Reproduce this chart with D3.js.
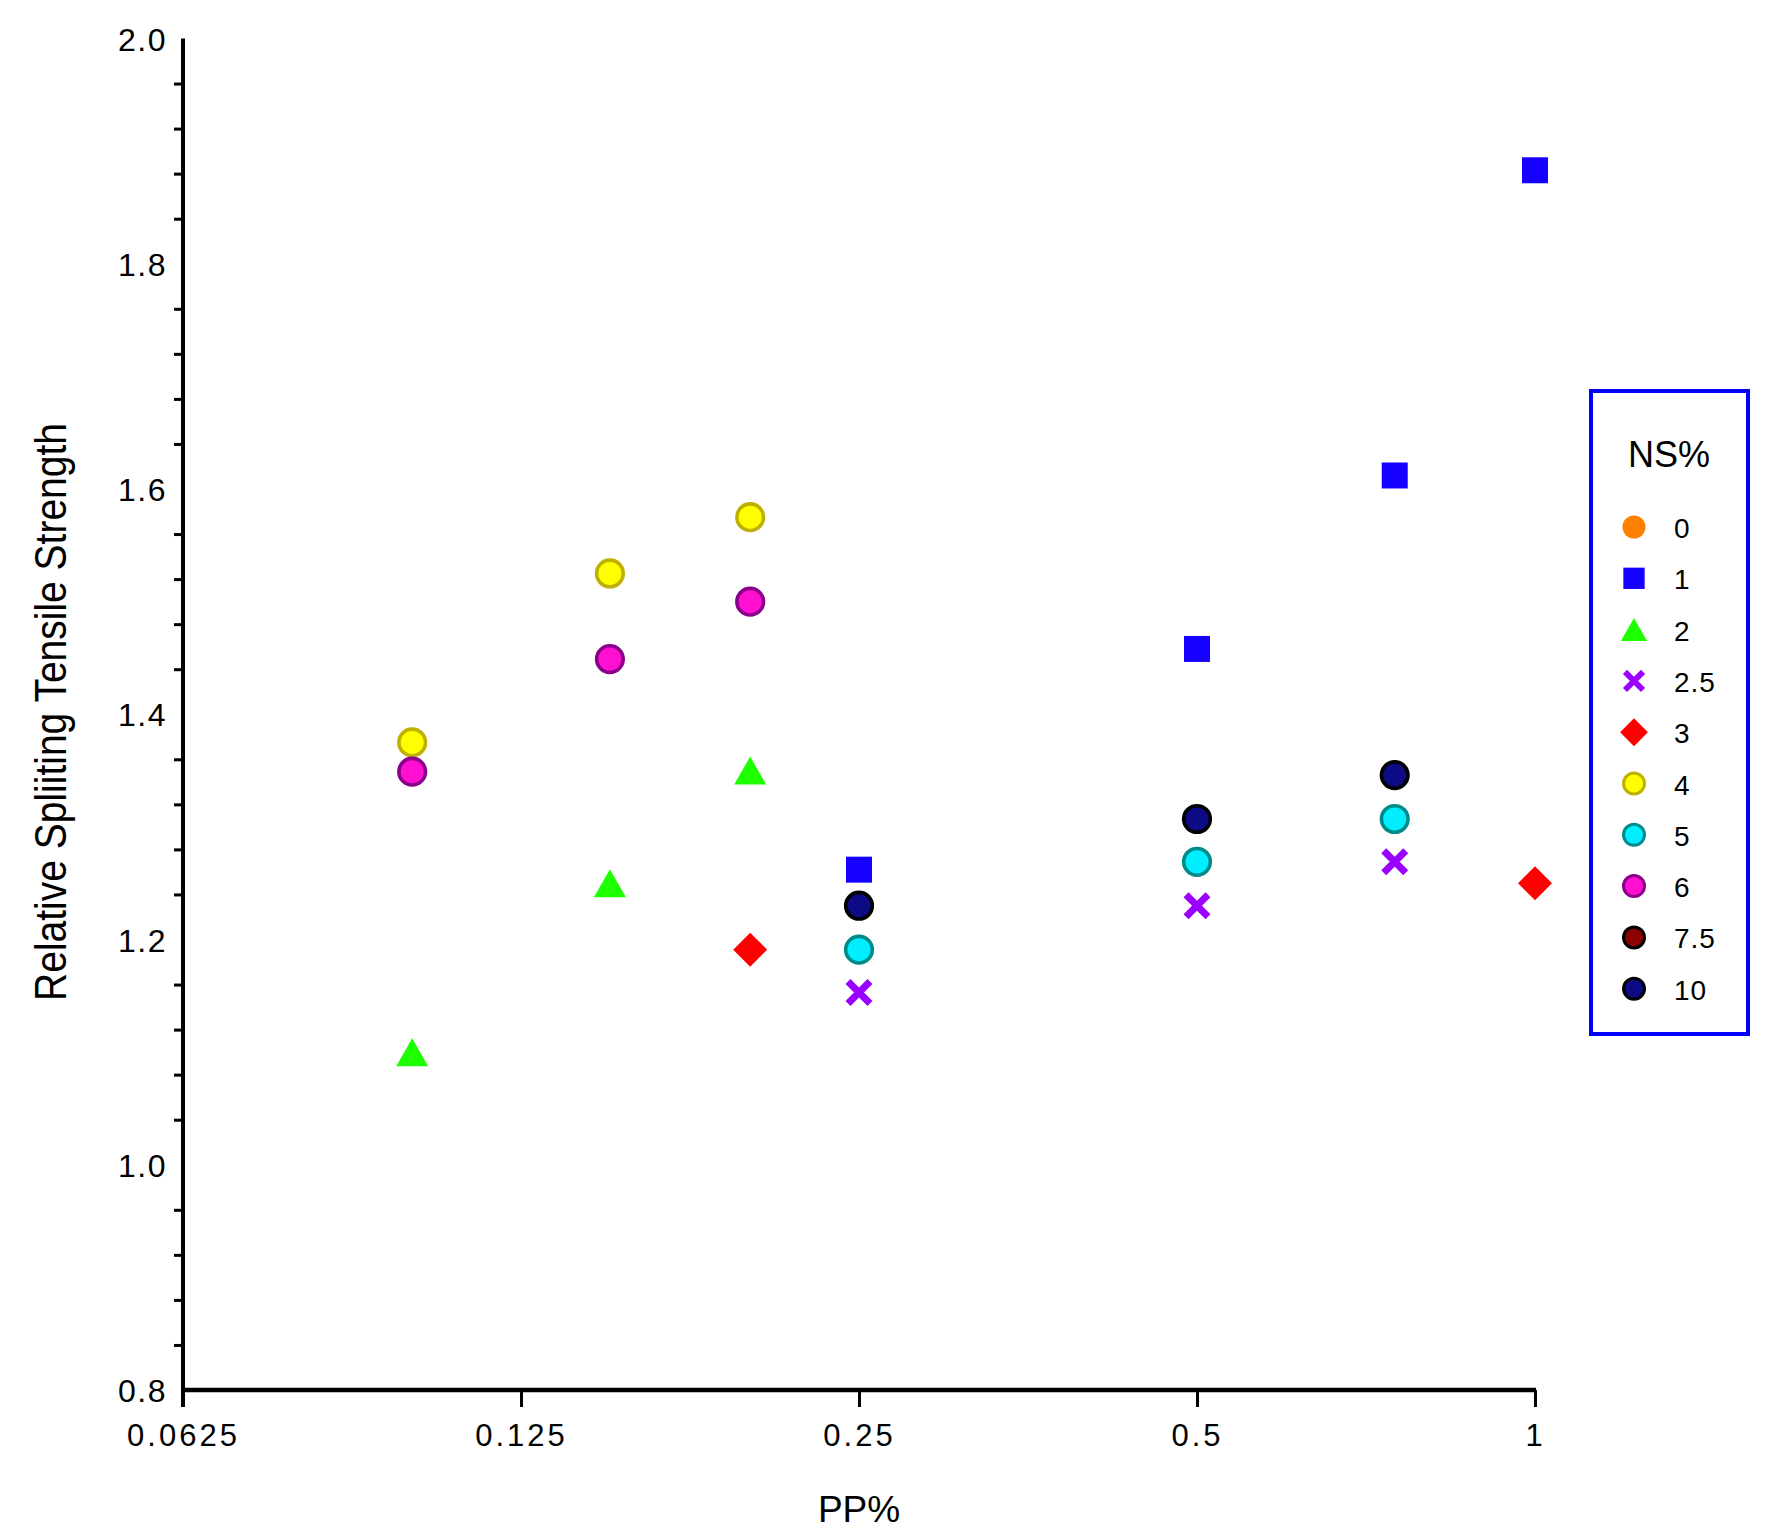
<!DOCTYPE html>
<html>
<head>
<meta charset="utf-8">
<script src="https://cdn.jsdelivr.net/npm/d3@7"></script>
<style>
  body { margin: 0; background: #fff; }
  svg { display: block; font-family: "Liberation Sans", Arial, sans-serif; }
</style>
</head>
<body>
<div id="chart"></div>
<script>
// NS% series, x = PP%, y = relative splitting tensile strength
const seriesNames = ["0", "1", "2", "2.5", "3", "4", "5", "6", "7.5", "10"];
const ns0 = [];
const ns1 = [[0.25, 1.262], [0.5, 1.458], [0.75, 1.612], [1, 1.883]];
const ns2 = [[0.1, 1.10], [0.15, 1.25], [0.2, 1.35]];
const ns25 = [[0.25, 1.153], [0.5, 1.230], [0.75, 1.269]];
const ns3 = [[0.2, 1.191], [1, 1.250]];
const ns4 = [[0.1, 1.375], [0.15, 1.525], [0.2, 1.575]];
const ns5 = [[0.25, 1.191], [0.5, 1.269], [0.75, 1.307]];
const ns6 = [[0.1, 1.349], [0.15, 1.449], [0.2, 1.50]];
const ns75 = [];
const ns10 = [[0.25, 1.230], [0.5, 1.307], [0.75, 1.346]];
const seriesData = [ns0, ns1, ns2, ns25, ns3, ns4, ns5, ns6, ns75, ns10];

const xTicks = [0.0625, 0.125, 0.25, 0.5, 1];
const yMajor = [0.8, 1.0, 1.2, 1.4, 1.6, 1.8, 2.0];

// marker look for each series
const styles = [
  { shape: "circle", fill: "#ff8000", stroke: "none" },
  { shape: "square", fill: "#1500ff", stroke: "none" },
  { shape: "triangle", fill: "#1eff00", stroke: "none" },
  { shape: "cross", fill: "none", stroke: "#9900ff" },
  { shape: "diamond", fill: "#ff0000", stroke: "none" },
  { shape: "circle", fill: "#ffff00", stroke: "#bfb000" },
  { shape: "circle", fill: "#00eeff", stroke: "#008b8b" },
  { shape: "circle", fill: "#ff10d0", stroke: "#8b008b" },
  { shape: "circle", fill: "#8b0000", stroke: "#000000" },
  { shape: "circle", fill: "#0c0a85", stroke: "#000000" }
];

const width = 1773, height = 1539;
const svg = d3.select("#chart").append("svg")
  .attr("width", width)
  .attr("height", height);

const x = d3.scaleLog().base(2).domain([0.0625, 1]).range([183, 1535]);
const y = d3.scaleLinear().domain([0.8, 2.0]).range([1390, 38.5]);

// path for a marker of a given size (k = 1 in plot, smaller in legend)
function markerPath(shape, k) {
  const p = d3.path();
  if (shape === "square") {
    const h = 13 * k;
    p.rect(-h, -h, 2 * h, 2 * h);
  } else if (shape === "triangle") {
    const w = 16 * k, h = 14 * k;
    p.moveTo(0, -h); p.lineTo(w, h); p.lineTo(-w, h); p.closePath();
  } else if (shape === "diamond") {
    const h = 17 * k;
    p.moveTo(0, -h); p.lineTo(h, 0); p.lineTo(0, h); p.lineTo(-h, 0); p.closePath();
  } else if (shape === "cross") {
    const h = 11 * k;
    p.moveTo(-h, -h); p.lineTo(h, h); p.moveTo(h, -h); p.lineTo(-h, h);
  }
  return p.toString();
}

function drawMarker(g, st, k, isLegend) {
  if (st.shape === "circle") {
    const hasStroke = st.stroke !== "none";
    g.append("circle")
      .attr("r", hasStroke ? (isLegend ? 10.5 : 13.3) : (isLegend ? 11.5 : 15))
      .attr("fill", st.fill)
      .attr("stroke", st.stroke)
      .attr("stroke-width", isLegend ? 3 : 3.6);
  } else {
    g.append("path")
      .attr("d", markerPath(st.shape, k))
      .attr("fill", st.fill)
      .attr("stroke", st.stroke)
      .attr("stroke-width", st.shape === "cross" ? 7 * k : 0)
      .attr("stroke-linecap", "butt");
  }
}

// axes
const xAxis = svg.append("g")
  .attr("transform", `translate(0,${y(0.8)})`)
  .call(d3.axisBottom(x).tickValues(xTicks).tickSize(17).tickFormat(d => String(d)));
xAxis.select(".domain").attr("stroke", "#000").attr("stroke-width", 4.5)
  .attr("d", `M${x(0.0625) - 2},0H${x(1) + 1}`);
xAxis.selectAll(".tick line").attr("stroke", "#000").attr("stroke-width", 3);
xAxis.selectAll(".tick text")
  .attr("y", 56).attr("dy", null)
  .attr("fill", "#000")
  .style("font-size", "31px")
  .style("letter-spacing", "3px")
  .style("font-family", "Liberation Sans, Arial, sans-serif");

const yMinor = d3.range(0.84, 2.0, 0.04).filter(v => Math.abs(v * 5 - Math.round(v * 5)) > 1e-6);

const yAxis = svg.append("g")
  .attr("transform", `translate(${x(0.0625)},0)`)
  .call(d3.axisLeft(y).tickValues(yMajor).tickSize(0).tickPadding(16).tickFormat(d3.format(".1f")));
yAxis.select(".domain").attr("stroke", "#000").attr("stroke-width", 4)
  .attr("d", `M0,${y(2.0)}V${y(0.8) + 17}`);
yAxis.selectAll(".tick text")
  .attr("dy", "0.36em")
  .attr("fill", "#000")
  .style("font-size", "32px")
  .style("letter-spacing", "1.5px")
  .style("font-family", "Liberation Sans, Arial, sans-serif");

const yMinorAxis = svg.append("g")
  .attr("transform", `translate(${x(0.0625)},0)`)
  .call(d3.axisLeft(y).tickValues(yMinor).tickSize(9).tickFormat(""));
yMinorAxis.select(".domain").remove();
yMinorAxis.selectAll(".tick line").attr("stroke", "#000").attr("stroke-width", 3);

// axis titles
svg.append("text")
  .attr("transform", `translate(${x(0.25)},1522)`)
  .attr("text-anchor", "middle")
  .style("font-size", "37px")
  .text("PP%");

svg.append("text")
  .attr("transform", "translate(66,712) scale(1.12,1) rotate(-90)")
  .attr("text-anchor", "middle")
  .style("font-size", "39px")
  .text("Relative Spliiting Tensile Strength");

// points
seriesData.forEach((pts, i) => {
  svg.append("g").attr("class", "series")
    .selectAll("g")
    .data(pts)
    .enter().append("g")
    .attr("transform", d => `translate(${x(d[0])},${y(d[1])})`)
    .each(function () { drawMarker(d3.select(this), styles[i], 1, false); });
});

// legend
const legend = svg.append("g").attr("class", "legend");
legend.append("rect")
  .attr("x", 1591).attr("y", 391)
  .attr("width", 157).attr("height", 643)
  .attr("fill", "#fff")
  .attr("stroke", "#0000ff")
  .attr("stroke-width", 4);
legend.append("text")
  .attr("x", 1669).attr("y", 467)
  .attr("text-anchor", "middle")
  .style("font-size", "36px")
  .text("NS%");

const items = legend.selectAll(".item")
  .data(seriesNames)
  .enter().append("g")
  .attr("class", "item")
  .attr("transform", (d, i) => `translate(1634,${527 + i * 51.3})`);
items.each(function (d, i) { drawMarker(d3.select(this), styles[i], 0.82, true); });
items.append("text")
  .attr("x", 40).attr("y", 11)
  .style("font-size", "28px")
  .style("letter-spacing", "1px")
  .text(d => d);
</script>
</body>
</html>
